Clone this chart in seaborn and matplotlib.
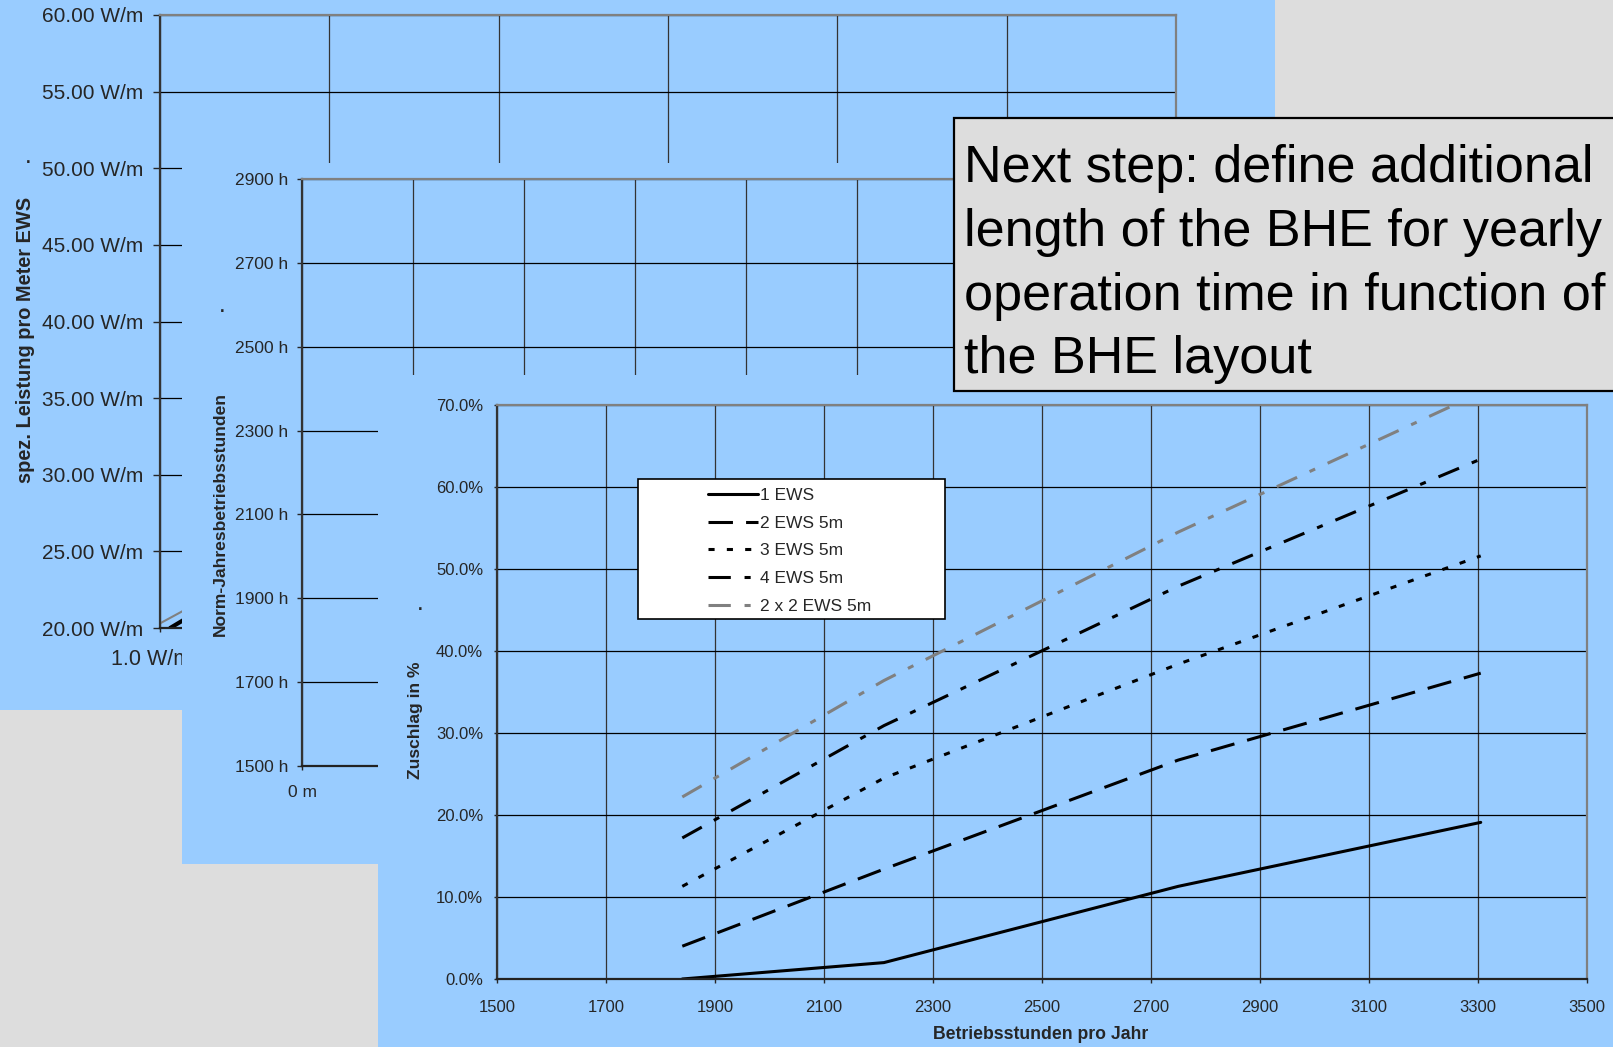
import numpy as np
import pandas as pd
import seaborn as sns
import matplotlib.pyplot as plt
from matplotlib.patches import Rectangle
from matplotlib.lines import Line2D
from matplotlib.ticker import FuncFormatter

# front chart: Zuschlag in % over Betriebsstunden pro Jahr
hours = [1840, 2210, 2750, 3305]
ews_1 = [0.0, 2.0, 11.3, 19.1]
ews_2 = [4.0, 13.4, 26.7, 37.3]
ews_3 = [11.3, 24.5, 38.4, 51.6]
ews_4 = [17.2, 30.9, 47.9, 63.4]
ews_2x2 = [22.2, 36.4, 54.5, 71.5]
layouts = ['1 EWS', '2 EWS 5m', '3 EWS 5m', '4 EWS 5m', '2 x 2 EWS 5m']

# back chart, only the very start of two lines is visible
leistung_x = [1.0, 2.0]
leistung_grey = [20.3, 26.3]
leistung_black_x = [1.06, 2.0]
leistung_black = [20.0, 26.2]

hour_ticks = list(range(1500, 3501, 200))
pct_ticks = list(range(0, 71, 10))
wm_ticks = list(range(20, 61, 5))
wm_x_ticks = [1.0, 2.0, 3.0, 4.0, 5.0, 6.0, 7.0]
norm_ticks = list(range(1500, 2901, 200))
meter_ticks = list(range(0, 71, 10))

BLUE = '#99CCFF'
GREY_BG = '#DDDDDD'
W, H = 1613, 1047

sns.set_style('ticks')
plt.rcParams['font.family'] = ['Liberation Sans', 'DejaVu Sans']

fig = plt.figure(figsize=(W / 100, H / 100), dpi=100, facecolor=GREY_BG)


def box(l, t, r, b):
    return [l / W, 1 - b / H, (r - l) / W, (b - t) / H]


def panel(l, t, r, b, z):
    ax = fig.add_axes(box(l, t, r, b), zorder=z)
    ax.set_facecolor(BLUE)
    ax.set_xticks([])
    ax.set_yticks([])
    for s in ax.spines.values():
        s.set_visible(False)
    return ax


def style_chart(ax):
    ax.set_facecolor(BLUE)
    ax.set_axisbelow(True)
    ax.grid(axis='y', color='black', lw=0.9)
    ax.grid(axis='x', color='#333333', lw=0.9)
    ax.spines['left'].set_color('#333333')
    ax.spines['bottom'].set_color('#222222')
    ax.spines['top'].set_color('#808080')
    ax.spines['right'].set_color('#808080')
    for s in ax.spines.values():
        s.set_linewidth(1.6)


def dot(ax, x, y):
    ax.text(x / W, 1 - y / H, '.', transform=fig.transFigure, ha='center',
            va='baseline', fontsize=12, fontweight='bold')


# ---- back chart: spez. Leistung pro Meter EWS
panel(0, 0, 1275, 710, 1)
axb = fig.add_axes(box(160, 15, 1176, 628), zorder=2)
style_chart(axb)
sns.lineplot(x=leistung_x, y=leistung_grey, color='#808080', lw=1.5, ax=axb)
sns.lineplot(x=leistung_black_x, y=leistung_black, color='black', lw=3, ax=axb)
axb.set_xlim(1.0, 7.0)
axb.set_ylim(20, 60)
axb.set_xticks(wm_x_ticks)
axb.set_yticks(wm_ticks)
# only the first x label is not covered by the next panel
axb.xaxis.set_major_formatter(FuncFormatter(lambda v, p: f'{v:.1f} W/m   ' if p == 0 else ''))
axb.yaxis.set_major_formatter(FuncFormatter(lambda v, p: f'{v:.2f} W/m'))
axb.tick_params(axis='y', length=5, width=1, pad=7, labelsize=15)
axb.tick_params(axis='x', length=3, width=1, pad=12, labelsize=15.5)
axb.set_xlabel('')
axb.set_ylabel('spez. Leistung pro Meter EWS', fontsize=14.4, fontweight='bold')
axb.yaxis.set_label_coords(35 / W, 1 - 340 / H, transform=fig.transFigure)
dot(axb, 28, 163)

# ---- middle chart: Norm-Jahresbetriebsstunden
panel(182, 163, 1250, 864, 3)
axm = fig.add_axes(box(302, 179, 1079, 766), zorder=4)
style_chart(axm)
axm.set_xlim(0, 70)
axm.set_ylim(1500, 2900)
axm.set_xticks(meter_ticks)
axm.set_yticks(norm_ticks)
axm.xaxis.set_major_formatter(FuncFormatter(lambda v, p: f'{v:.0f} m' if p == 0 else ''))
axm.yaxis.set_major_formatter(FuncFormatter(lambda v, p: f'{v:.0f} h'))
axm.tick_params(axis='y', length=3.5, width=1, pad=6.5, labelsize=12.5)
axm.tick_params(axis='x', length=3, width=1, pad=11, labelsize=12.5)
axm.set_ylabel('Norm-Jahresbetriebsstunden', fontsize=12.6, fontweight='bold')
axm.yaxis.set_label_coords(228 / W, 1 - 514 / H, transform=fig.transFigure)
dot(axm, 222, 312)

# ---- front chart: Zuschlag in %
panel(378, 375, 1613, 1047, 5)
axf = fig.add_axes(box(497, 405, 1587, 979), zorder=6)
style_chart(axf)

df = pd.DataFrame({
    'hours': hours * len(layouts),
    'zuschlag': ews_1 + ews_2 + ews_3 + ews_4 + ews_2x2,
    'layout': np.repeat(layouts, len(hours)),
})
colors = {'1 EWS': 'black', '2 EWS 5m': 'black', '3 EWS 5m': 'black',
          '4 EWS 5m': 'black', '2 x 2 EWS 5m': '#808080'}
dashes = {'1 EWS': '', '2 EWS 5m': (8, 4.3), '3 EWS 5m': (2, 4),
          '4 EWS 5m': (7.3, 4.5, 2, 4.5), '2 x 2 EWS 5m': (7.3, 4.5, 2, 4.5)}
sns.lineplot(data=df, x='hours', y='zuschlag', hue='layout', style='layout',
             palette=colors, dashes=dashes, lw=2.2, legend=False, sort=False, ax=axf)

axf.set_xlim(1500, 3500)
axf.set_ylim(0, 70)
axf.set_xticks(hour_ticks)
axf.set_yticks(pct_ticks)
axf.yaxis.set_major_formatter(FuncFormatter(lambda v, p: f'{v:.1f}%'))
axf.tick_params(axis='y', length=2, width=1, pad=8, labelsize=12)
axf.tick_params(axis='x', length=3, width=1, pad=12, labelsize=12)
axf.set_xlabel('Betriebsstunden pro Jahr', fontsize=12.7, fontweight='bold')
axf.xaxis.set_label_coords(1041 / W, 1 - 1026 / H, transform=fig.transFigure)
axf.set_ylabel('Zuschlag in %', fontsize=12.6, fontweight='bold')
axf.yaxis.set_label_coords(423 / W, 1 - 720 / H, transform=fig.transFigure)
dot(axf, 420, 610)

# legend in a white box
axf.add_artist(Rectangle((638 / W, 1 - 619 / H), 307 / W, 140 / H, transform=fig.transFigure,
                         facecolor='white', edgecolor='black', lw=1.2, zorder=4, clip_on=False))
handles = [Line2D([], [], color=colors[n], lw=2.2,
                  linestyle='-' if dashes[n] == '' else (0, dashes[n])) for n in layouts]
axf.legend(handles, layouts, loc='upper left', bbox_to_anchor=(708 / W, 1 - 488 / H),
           bbox_transform=fig.transFigure, frameon=False, fontsize=12.5, handlelength=2.9,
           handletextpad=0.12, labelspacing=0.72, borderpad=0, borderaxespad=0)

# ---- text box on top
ov = fig.add_axes([0, 0, 1, 1], zorder=8)
ov.axis('off')
ov.set_xlim(0, W)
ov.set_ylim(H, 0)
ov.add_patch(Rectangle((954, 118), 750, 273, facecolor=GREY_BG, edgecolor='black',
                       lw=1.6, clip_on=False))
ov.text(964, 144, 'Next step: define additional\nlength of the BHE for yearly\n'
        'operation time in function of\nthe BHE layout',
        ha='left', va='top', fontsize=37.5, linespacing=1.39, color='black')

fig.savefig('out.png', dpi=100, facecolor=GREY_BG)
